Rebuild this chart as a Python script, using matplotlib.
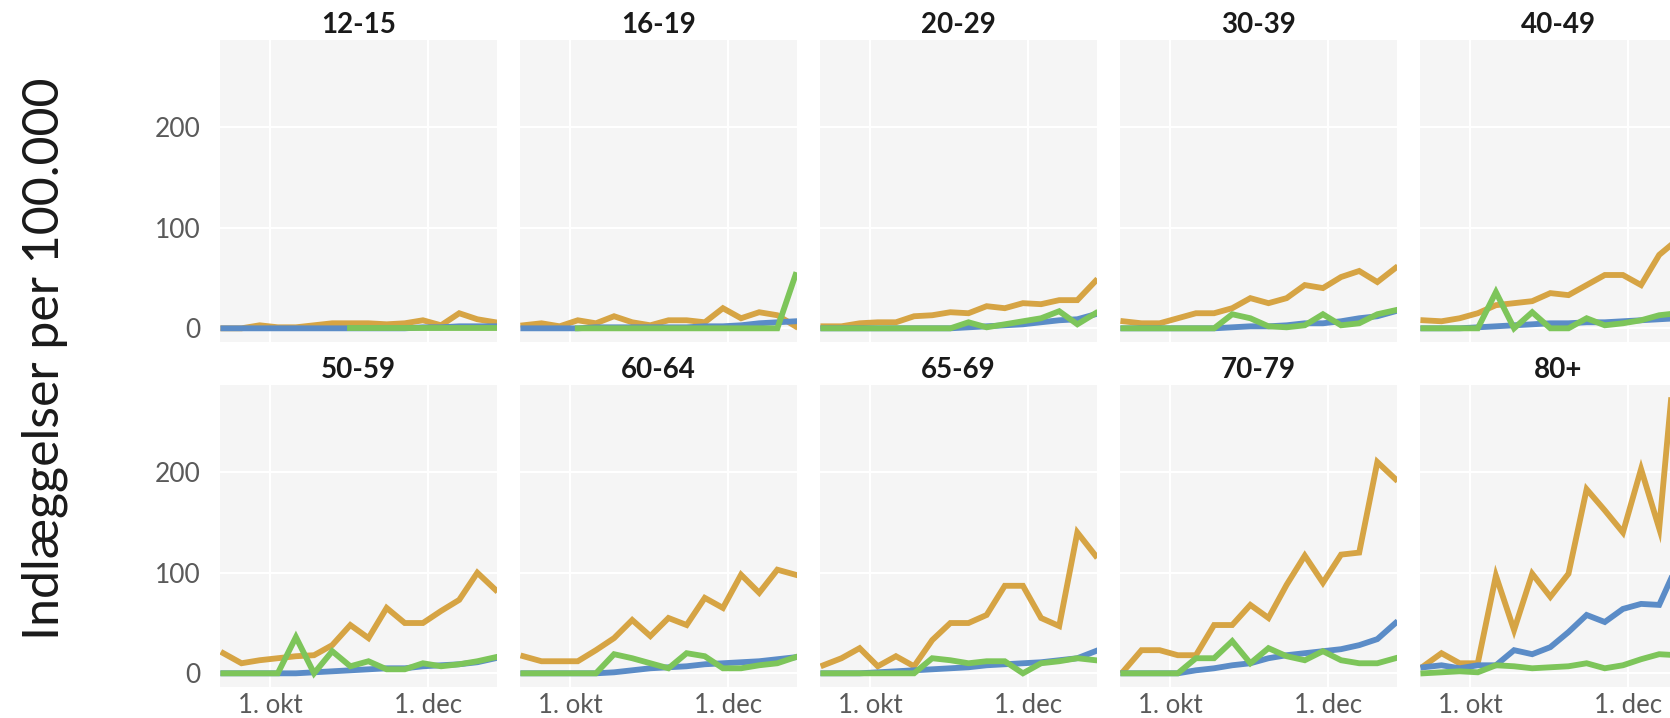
import matplotlib
matplotlib.use("Agg")
import matplotlib.pyplot as plt
import numpy as np
import pandas as pd

# ---------------- data ----------------
dates = pd.date_range("2021-09-13", periods=16, freq="7D")
age_groups = ["12-15", "16-19", "20-29", "30-39", "40-49",
              "50-59", "60-64", "65-69", "70-79", "80+"]
x_tick_dates = pd.to_datetime(["2021-10-01", "2021-12-01"])
x_tick_labels = ["1. okt", "1. dec"]
y_ticks = [0, 100, 200]
nan = np.nan

# orange series
unvaccinated = {
    "12-15": [0, 0, 3, 1, 1, 3, 5, 5, 5, 4, 5, 8, 3, 15, 9, 6],
    "16-19": [3, 5, 2, 8, 5, 12, 6, 3, 8, 8, 6, 20, 10, 16, 13, 2],
    "20-29": [2, 2, 5, 6, 6, 12, 13, 16, 15, 22, 20, 25, 24, 28, 28, 47],
    "30-39": [7, 5, 5, 10, 15, 15, 20, 30, 25, 30, 43, 40, 51, 57, 46, 60],
    "40-49": [8, 7, 10, 15, 23, 25, 27, 35, 33, 43, 53, 53, 43, 73, 88, 100],
    "50-59": [20, 10, 13, 15, 17, 18, 28, 48, 35, 65, 50, 50, 62, 73, 100, 83],
    "60-64": [17, 12, 12, 12, 23, 35, 53, 37, 55, 48, 75, 65, 98, 80, 103, 98],
    "65-69": [8, 15, 25, 7, 17, 7, 33, 50, 50, 58, 87, 87, 55, 47, 140, 117],
    "70-79": [2, 23, 23, 18, 18, 48, 48, 68, 55, 88, 117, 90, 118, 120, 210, 193],
    "80+":   [7, 20, 10, 10, 97, 43, 99, 76, 99, 183, 162, 140, 203, 144, 340, 270],
}
# blue series
vaccinated = {
    "12-15": [0, 0, 0, 0, 0, 0, 0, 0, 0, 0, 0, 1, 1, 2, 2, 2],
    "16-19": [0, 0, 0, 0, 1, 1, 1, 1, 1, 1, 2, 2, 3, 5, 6, 7],
    "20-29": [0, 0, 0, 0, 0, 0, 0, 0, 1, 2, 3, 4, 6, 8, 9, 14],
    "30-39": [0, 0, 0, 0, 0, 0, 1, 2, 2, 3, 5, 5, 7, 10, 12, 17],
    "40-49": [0, 0, 0, 1, 2, 3, 4, 5, 5, 6, 6, 7, 8, 9, 10, 11],
    "50-59": [0, 0, 0, 0, 0, 1, 2, 3, 4, 5, 5, 7, 8, 9, 11, 15],
    "60-64": [0, 0, 0, 0, 0, 1, 3, 5, 6, 7, 9, 10, 11, 12, 14, 16],
    "65-69": [0, 0, 0, 1, 2, 3, 4, 5, 6, 8, 9, 10, 11, 13, 15, 22],
    "70-79": [0, 0, 0, 0, 3, 5, 8, 10, 15, 18, 20, 22, 24, 28, 34, 50],
    "80+":   [6, 8, 5, 8, 8, 23, 19, 26, 41, 58, 51, 64, 69, 68, 108, 130],
}
# green series
booster = {
    "12-15": [nan, nan, nan, nan, nan, nan, nan, 0, 0, 0, 0, 0, 0, 0, 0, 0],
    "16-19": [nan, nan, nan, 0, 0, 0, 0, 0, 0, 0, 0, 0, 0, 0, 0, 53],
    "20-29": [0, 0, 0, 0, 0, 0, 0, 0, 6, 1, 4, 7, 10, 17, 4, 15],
    "30-39": [0, 0, 0, 0, 0, 0, 14, 10, 2, 1, 3, 14, 3, 5, 14, 18],
    "40-49": [0, 0, 0, 0, 36, 0, 16, 0, 0, 10, 3, 5, 8, 13, 15, 16],
    "50-59": [0, 0, 0, 0, 36, 0, 22, 7, 12, 4, 4, 10, 7, 9, 12, 16],
    "60-64": [0, 0, 0, 0, 0, 19, 15, 10, 5, 20, 17, 5, 5, 8, 10, 16],
    "65-69": [0, 0, 0, 0, 0, 0, 15, 13, 10, 12, 12, 0, 10, 12, 15, 13],
    "70-79": [0, 0, 0, 0, 15, 15, 32, 10, 25, 17, 13, 22, 13, 10, 10, 15],
    "80+":   [0, 1, 2, 1, 8, 7, 5, 6, 7, 10, 5, 8, 14, 19, 18, 18],
}

# ---------------- style ----------------
col_orange = "#D6A444"
col_blue = "#5B8CC7"
col_green = "#7DC55A"
panel_bg = "#F5F5F5"
tick_col = "#5A5A5A"
font = "Lato"

W, H = 1670, 718
fig = plt.figure(figsize=(W / 100, H / 100), dpi=100)

col_left = [220, 520, 820, 1120, 1420]
row_top = [40, 385]
pw, ph = 277, 302

for idx, ag in enumerate(age_groups):
    r, c = divmod(idx, 5)
    ax = fig.add_axes([col_left[c] / W, (H - row_top[r] - ph) / H, pw / W, ph / H])
    ax.set_facecolor(panel_bg)
    for s in ax.spines.values():
        s.set_visible(False)
    ax.set_axisbelow(True)
    ax.grid(True, color="white", linewidth=1.5)

    ax.plot(dates, unvaccinated[ag], color=col_orange, lw=4.2, solid_joinstyle="miter", zorder=3)
    ax.plot(dates, vaccinated[ag], color=col_blue, lw=4.2, solid_joinstyle="miter", zorder=3)
    ax.plot(dates, booster[ag], color=col_green, lw=4.2, solid_joinstyle="miter", zorder=4)

    ax.set_ylim(-13.6, 286.6)
    ax.set_xlim(dates[0] - pd.Timedelta(hours=31), dates[-1] + pd.Timedelta(hours=14))
    ax.set_yticks(y_ticks)
    ax.set_xticks(x_tick_dates)
    ax.tick_params(length=0)
    if c == 0:
        ax.set_yticklabels([str(v) for v in y_ticks], fontsize=19,
                           color=tick_col, fontfamily=font)
        ax.tick_params(axis="y", pad=14)
    else:
        ax.set_yticklabels([])
    if r == 1:
        ax.set_xticklabels(x_tick_labels, fontsize=18.5, color=tick_col, fontfamily=font)
        ax.tick_params(axis="x", pad=4)
    else:
        ax.set_xticklabels([])

    ax.text(0.5, 1 + 15 / ph, ag, transform=ax.transAxes, ha="center", va="center",
            fontsize=20, fontweight="bold", color="#1A1A1A", fontfamily=font)

fig.text(45 / W, 0.5, "Indlæggelser per 100.000", rotation=90, ha="center", va="center",
         fontsize=36, color="#1A1A1A", fontfamily=font)

fig.savefig("out.png", dpi=100, facecolor="white")
